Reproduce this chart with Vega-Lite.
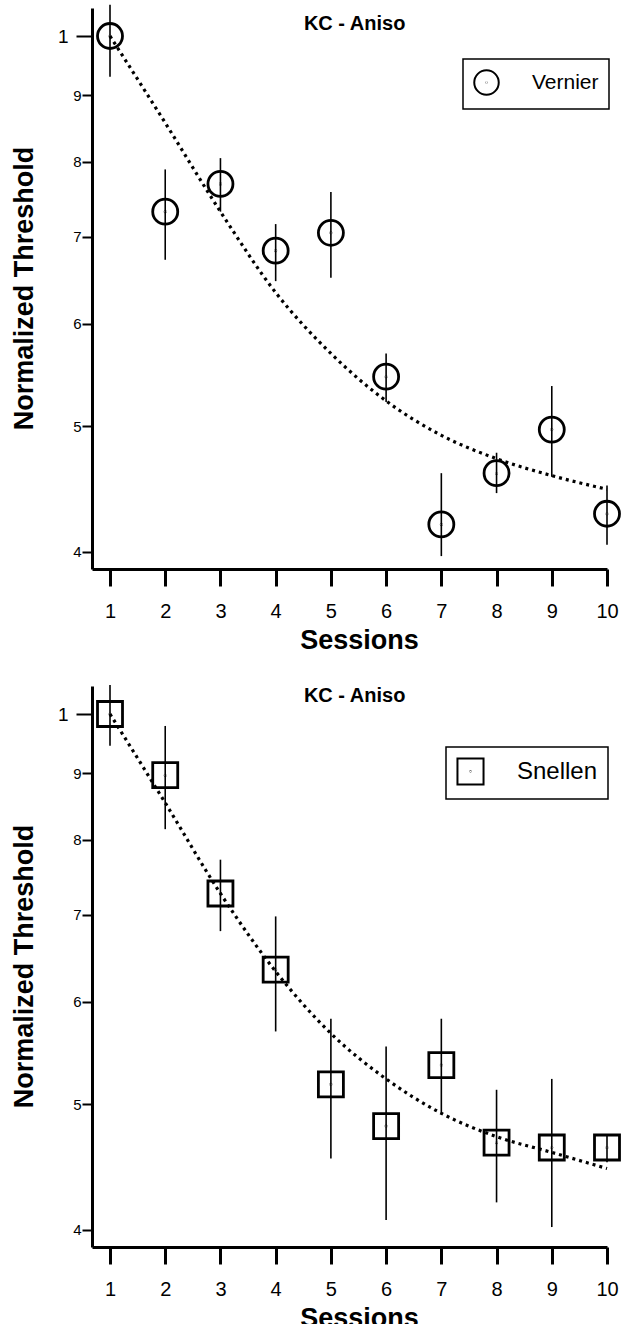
{
  "$schema": "https://vega.github.io/schema/vega-lite/v6.json",
  "background": "white",
  "padding": {"left": 10, "top": 3, "right": 5, "bottom": 5},
  "spacing": 31,
  "resolve": {"scale": {"shape": "independent"}, "legend": {"shape": "independent"}},
  "datasets": {
    "vernier": [
      {"session": 1, "threshold": 1.0, "lower": 0.93, "upper": 1.057, "test": "Vernier"},
      {"session": 2, "threshold": 0.732, "lower": 0.672, "upper": 0.789, "test": "Vernier"},
      {"session": 3, "threshold": 0.769, "lower": 0.732, "upper": 0.805, "test": "Vernier"},
      {"session": 4, "threshold": 0.683, "lower": 0.647, "upper": 0.716, "test": "Vernier"},
      {"session": 5, "threshold": 0.705, "lower": 0.651, "upper": 0.758, "test": "Vernier"},
      {"session": 6, "threshold": 0.546, "lower": 0.522, "upper": 0.569, "test": "Vernier"},
      {"session": 7, "threshold": 0.42, "lower": 0.397, "upper": 0.46, "test": "Vernier"},
      {"session": 8, "threshold": 0.46, "lower": 0.444, "upper": 0.477, "test": "Vernier"},
      {"session": 9, "threshold": 0.497, "lower": 0.457, "upper": 0.537, "test": "Vernier"},
      {"session": 10, "threshold": 0.428, "lower": 0.405, "upper": 0.45, "test": "Vernier"}
    ],
    "vernier_fit": [
      {"session": 1, "fit": 1.0},
      {"session": 2, "fit": 0.857},
      {"session": 3, "fit": 0.732},
      {"session": 4, "fit": 0.634},
      {"session": 5, "fit": 0.569},
      {"session": 6, "fit": 0.523},
      {"session": 7, "fit": 0.492},
      {"session": 8, "fit": 0.472},
      {"session": 9, "fit": 0.458},
      {"session": 10, "fit": 0.447}
    ],
    "snellen": [
      {"session": 1, "threshold": 1.0, "lower": 0.945, "upper": 1.053, "test": "Snellen"},
      {"session": 2, "threshold": 0.897, "lower": 0.815, "upper": 0.979, "test": "Snellen"},
      {"session": 3, "threshold": 0.727, "lower": 0.68, "upper": 0.772, "test": "Snellen"},
      {"session": 4, "threshold": 0.635, "lower": 0.569, "upper": 0.698, "test": "Snellen"},
      {"session": 5, "threshold": 0.518, "lower": 0.454, "upper": 0.582, "test": "Snellen"},
      {"session": 6, "threshold": 0.481, "lower": 0.407, "upper": 0.554, "test": "Snellen"},
      {"session": 7, "threshold": 0.536, "lower": 0.492, "upper": 0.582, "test": "Snellen"},
      {"session": 8, "threshold": 0.467, "lower": 0.42, "upper": 0.513, "test": "Snellen"},
      {"session": 9, "threshold": 0.463, "lower": 0.402, "upper": 0.523, "test": "Snellen"},
      {"session": 10, "threshold": 0.463, "lower": 0.451, "upper": 0.474, "test": "Snellen"}
    ],
    "snellen_fit": [
      {"session": 1, "fit": 1.0},
      {"session": 2, "fit": 0.854},
      {"session": 3, "fit": 0.727},
      {"session": 4, "fit": 0.633},
      {"session": 5, "fit": 0.567},
      {"session": 6, "fit": 0.523},
      {"session": 7, "fit": 0.492},
      {"session": 8, "fit": 0.472},
      {"session": 9, "fit": 0.459},
      {"session": 10, "fit": 0.446}
    ],
    "panel_title": [
      {"label": "KC - Aniso"}
    ]
  },
  "vconcat": [
    {
      "width": 515,
      "height": 561,
      "layer": [
        {
          "data": {"name": "vernier_fit"},
          "mark": {"type": "line", "color": "black", "strokeWidth": 3.2, "strokeDash": [3, 4], "interpolate": "monotone"},
          "encoding": {
            "x": {"field": "session", "type": "quantitative",
              "scale": {"domain": [0.674, 10], "nice": false, "zero": false},
              "axis": {"values": [1, 2, 3, 4, 5, 6, 7, 8, 9, 10], "title": "Sessions", "tickSize": 17, "tickWidth": 3, "labelFontSize": 20, "labelBaseline": "alphabetic", "labelPadding": 31, "labelFlush": false, "labelOverlap": false, "titleX": 267, "titleY": 79, "titleBaseline": "alphabetic", "titleAlign": "center"}},
            "y": {"field": "fit", "type": "quantitative",
              "scale": {"type": "log", "domain": [0.388, 1.051], "nice": false, "zero": false},
              "axis": {"values": [0.4, 0.5, 0.6, 0.7, 0.8, 0.9, 1], "title": "Normalized Threshold",
                "labelExpr": "datum.value >= 0.99 ? '1' : format(datum.value * 10, '.0f')",
                "tickWidth": 2,
                "tickSize": {"condition": {"test": "datum.value >= 0.99", "value": 16}, "value": 10},
                "labelFontSize": {"condition": {"test": "datum.value >= 0.99", "value": 19}, "value": 15},
                "labelPadding": {"condition": {"test": "datum.value >= 0.99", "value": 8}, "value": 1},
                "titleX": -60, "titleY": 280, "titleAngle": -90, "titleBaseline": "alphabetic", "titleAlign": "center"}}
          }
        },
        {
          "data": {"name": "vernier"},
          "mark": {"type": "rule", "color": "black", "strokeWidth": 1.6},
          "encoding": {
            "x": {"field": "session", "type": "quantitative"},
            "y": {"field": "lower", "type": "quantitative"},
            "y2": {"field": "upper"}
          }
        },
        {
          "data": {"name": "vernier"},
          "mark": {"type": "point", "filled": false, "opacity": 1, "size": 625, "strokeWidth": 2.8, "color": "black"},
          "encoding": {
            "x": {"field": "session", "type": "quantitative"},
            "y": {"field": "threshold", "type": "quantitative"},
            "shape": {"field": "test", "type": "nominal",
              "scale": {"range": ["M-1,0A1,1 0 1,1 1,0A1,1 0 1,1 -1,0Z M-0.01,0A0.01,0.01 0 1,1 0.01,0A0.01,0.01 0 1,1 -0.01,0Z"]},
              "legend": {"title": null, "orient": "none", "legendX": 371, "legendY": 51, "padding": 10, "labelOffset": 32, "labelFontSize": 21, "symbolSize": 600}}
          }
        },
        {
          "data": {"name": "panel_title"},
          "mark": {"type": "text", "font": "Liberation Sans", "fontSize": 20, "fontWeight": "bold", "color": "black", "align": "center", "baseline": "alphabetic"},
          "encoding": {
            "text": {"field": "label"},
            "x": {"datum": 5.43, "type": "quantitative"},
            "y": {"datum": 1.011, "type": "quantitative"}
          }
        }
      ]
    },
    {
      "width": 515,
      "height": 561,
      "layer": [
        {
          "data": {"name": "snellen_fit"},
          "mark": {"type": "line", "color": "black", "strokeWidth": 3.2, "strokeDash": [3, 4], "interpolate": "monotone"},
          "encoding": {
            "x": {"field": "session", "type": "quantitative",
              "scale": {"domain": [0.674, 10], "nice": false, "zero": false},
              "axis": {"values": [1, 2, 3, 4, 5, 6, 7, 8, 9, 10], "title": "Sessions", "tickSize": 17, "tickWidth": 3, "labelFontSize": 20, "labelBaseline": "alphabetic", "labelPadding": 31, "labelFlush": false, "labelOverlap": false, "titleX": 267, "titleY": 79, "titleBaseline": "alphabetic", "titleAlign": "center"}},
            "y": {"field": "fit", "type": "quantitative",
              "scale": {"type": "log", "domain": [0.388, 1.051], "nice": false, "zero": false},
              "axis": {"values": [0.4, 0.5, 0.6, 0.7, 0.8, 0.9, 1], "title": "Normalized Threshold",
                "labelExpr": "datum.value >= 0.99 ? '1' : format(datum.value * 10, '.0f')",
                "tickWidth": 2,
                "tickSize": {"condition": {"test": "datum.value >= 0.99", "value": 16}, "value": 10},
                "labelFontSize": {"condition": {"test": "datum.value >= 0.99", "value": 19}, "value": 15},
                "labelPadding": {"condition": {"test": "datum.value >= 0.99", "value": 8}, "value": 1},
                "titleX": -60, "titleY": 280, "titleAngle": -90, "titleBaseline": "alphabetic", "titleAlign": "center"}}
          }
        },
        {
          "data": {"name": "snellen"},
          "mark": {"type": "rule", "color": "black", "strokeWidth": 1.6},
          "encoding": {
            "x": {"field": "session", "type": "quantitative"},
            "y": {"field": "lower", "type": "quantitative"},
            "y2": {"field": "upper"}
          }
        },
        {
          "data": {"name": "snellen"},
          "mark": {"type": "point", "filled": false, "opacity": 1, "size": 625, "strokeWidth": 2.8, "color": "black"},
          "encoding": {
            "x": {"field": "session", "type": "quantitative"},
            "y": {"field": "threshold", "type": "quantitative"},
            "shape": {"field": "test", "type": "nominal",
              "scale": {"range": ["M-1,-1H1V1H-1Z M-0.01,0A0.01,0.01 0 1,1 0.01,0A0.01,0.01 0 1,1 -0.01,0Z"]},
              "legend": {"title": null, "orient": "none", "legendX": 354, "legendY": 61, "padding": 10, "labelOffset": 32, "labelFontSize": 24, "symbolSize": 680}}
          }
        },
        {
          "data": {"name": "panel_title"},
          "mark": {"type": "text", "font": "Liberation Sans", "fontSize": 20, "fontWeight": "bold", "color": "black", "align": "center", "baseline": "alphabetic"},
          "encoding": {
            "text": {"field": "label"},
            "x": {"datum": 5.43, "type": "quantitative"},
            "y": {"datum": 1.0215, "type": "quantitative"}
          }
        }
      ]
    }
  ],
  "config": {
    "view": {"stroke": null},
    "font": "Liberation Sans",
    "axis": {"grid": false, "domainColor": "black", "domainWidth": 3, "tickColor": "black", "labelColor": "black", "titleColor": "black", "labelFont": "Liberation Sans", "titleFont": "Liberation Sans", "titleFontWeight": "bold", "titleFontSize": 27},
    "legend": {"strokeColor": "black", "strokeWidth": 1.5, "labelFont": "Liberation Sans", "labelColor": "black", "symbolStrokeColor": "black", "symbolStrokeWidth": 2, "symbolFillColor": "transparent"}
  }
}
